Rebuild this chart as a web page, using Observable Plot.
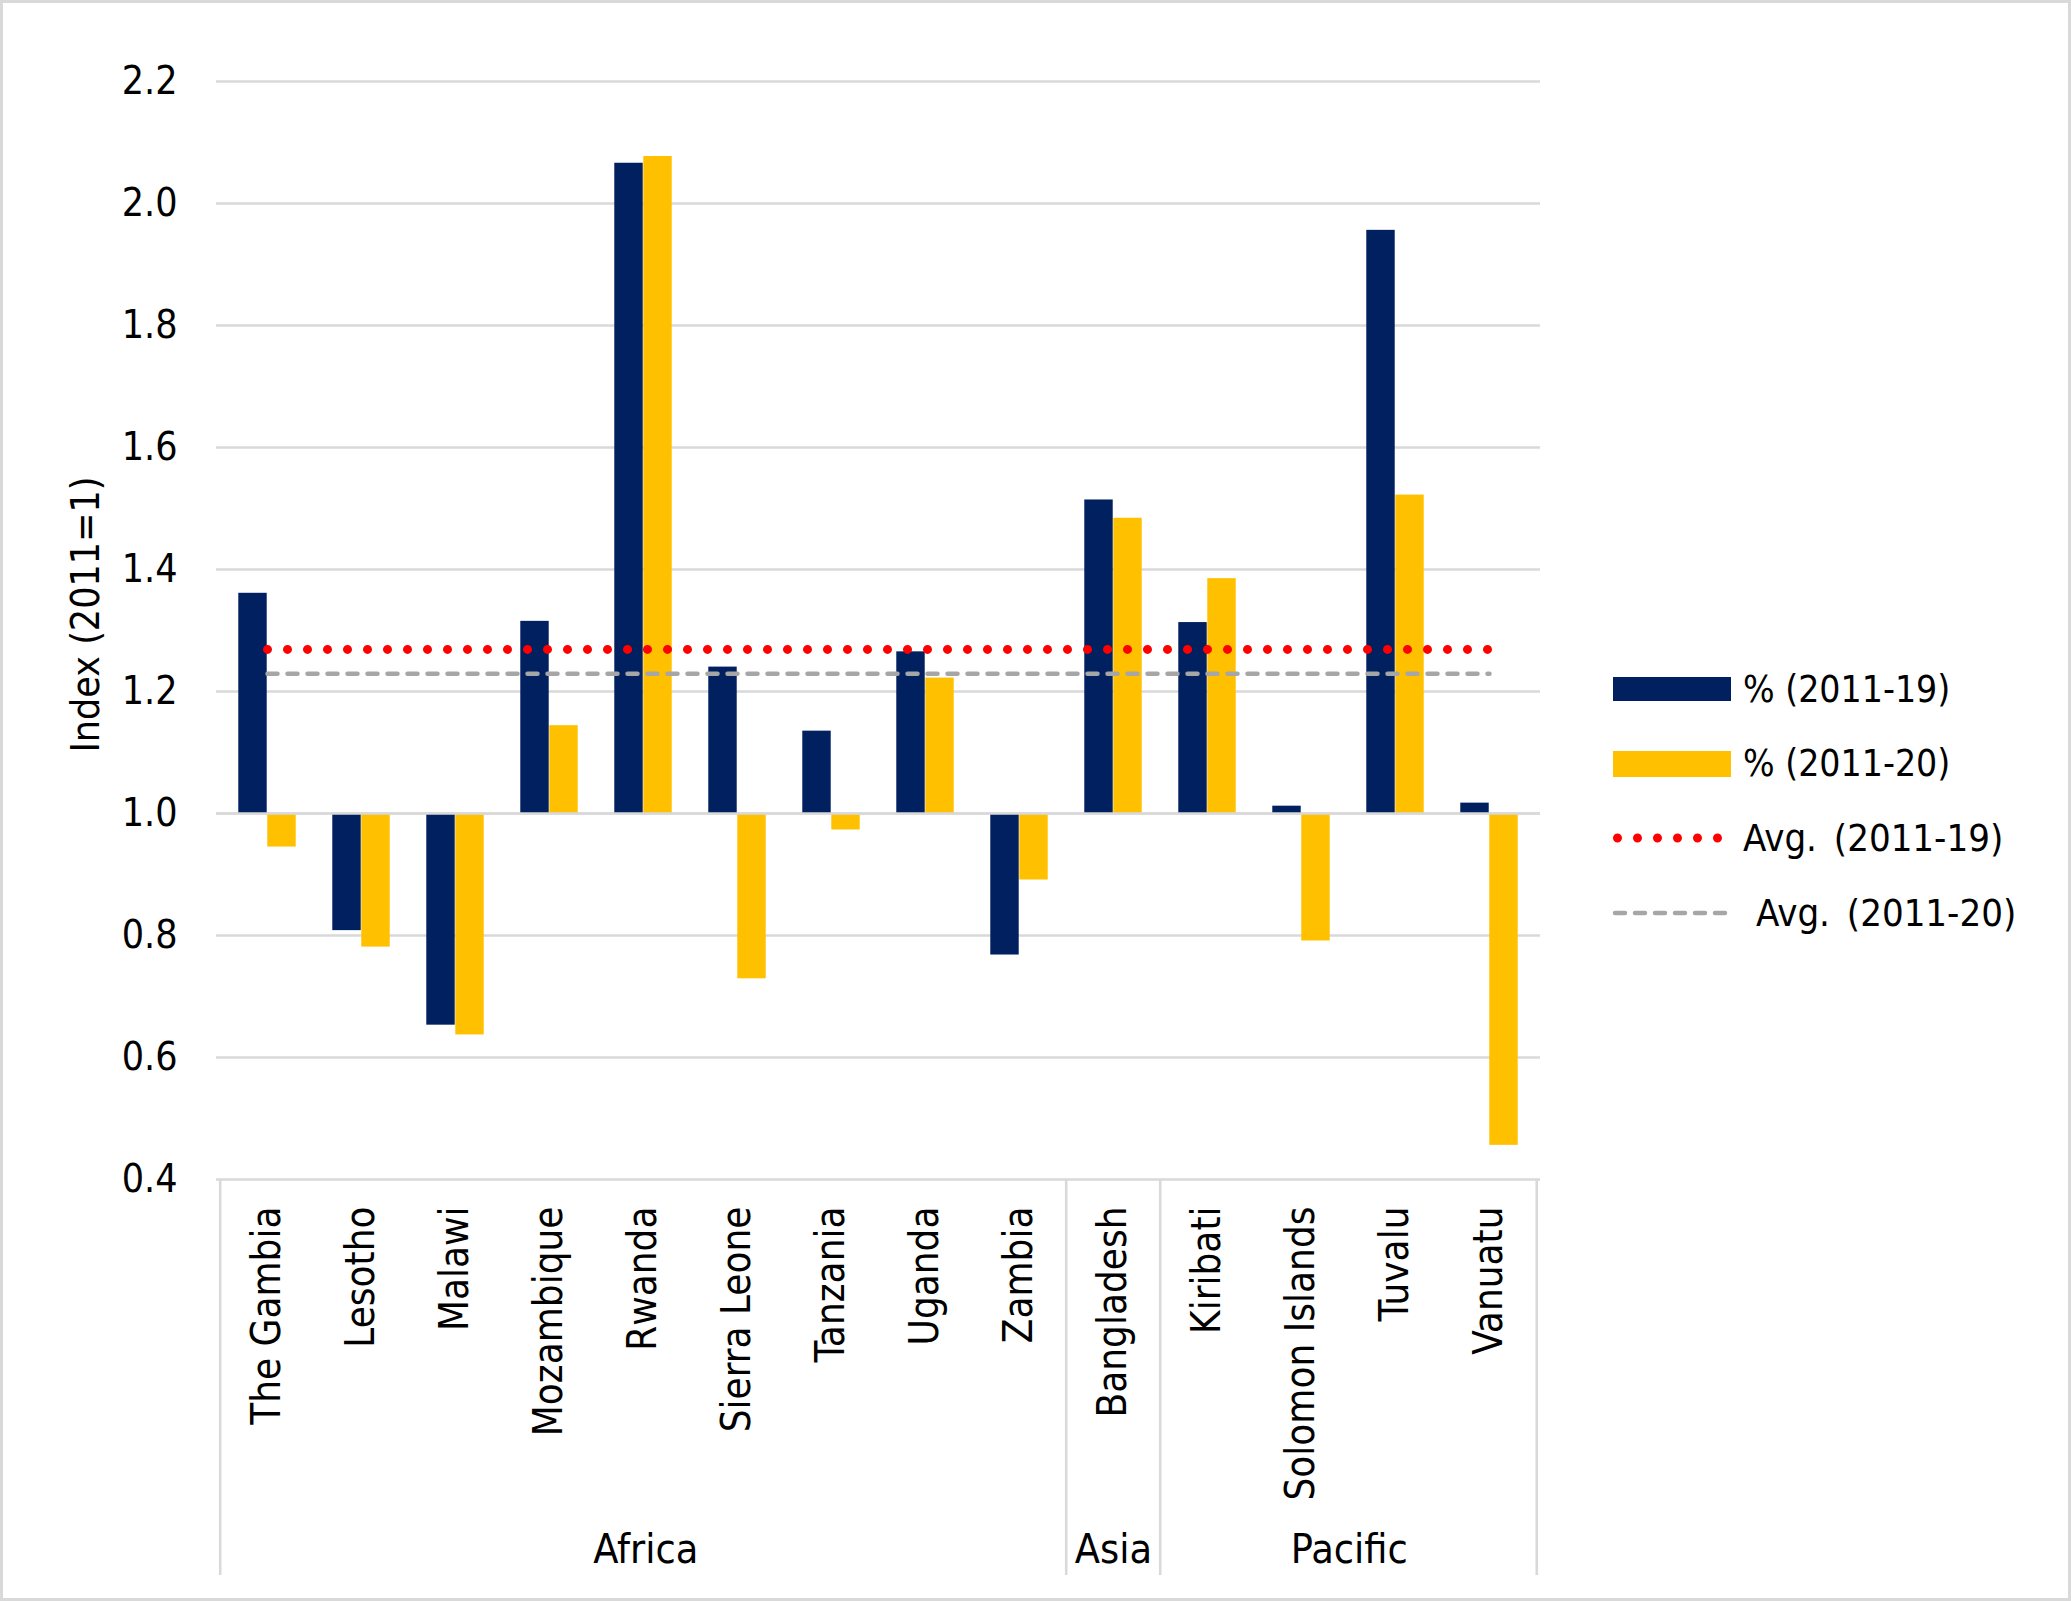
<!DOCTYPE html>
<html>
<head>
<meta charset="utf-8">
<script src="https://cdn.jsdelivr.net/npm/d3@7"></script>
<script src="https://cdn.jsdelivr.net/npm/@observablehq/plot@0.6"></script>
<style>
  body { margin: 0; background: #fff; }
  #wrap { position: relative; width: 2071px; height: 1601px; background: #fff; }
  #border { position: absolute; left: 0; top: 0; width: 2071px; height: 1601px; box-sizing: border-box; border: 3px solid #d9d9d9; pointer-events: none; }
  #legend { position: absolute; left: 1610px; top: 652px; font-family: "DejaVu Sans Condensed", "DejaVu Sans", sans-serif; font-stretch: condensed; font-size: 37px; color: #000; }
  .row { display: flex; align-items: center; height: 74.5px; }
  .row svg { flex: none; }
  .row span { margin-left: 12px; white-space: pre; }
</style>
</head>
<body>
<div id="wrap"><div id="border"></div><div id="legend"></div></div>
<script>
// ---- data ----
const countries = ["The Gambia", "Lesotho", "Malawi", "Mozambique", "Rwanda", "Sierra Leone", "Tanzania", "Uganda", "Zambia", "Bangladesh", "Kiribati", "Solomon Islands", "Tuvalu", "Vanuatu"];
const regions = ["Africa", "Africa", "Africa", "Africa", "Africa", "Africa", "Africa", "Africa", "Africa", "Asia", "Pacific", "Pacific", "Pacific", "Pacific"];
const seriesNames = ["% (2011-19)", "% (2011-20)"];
const values2011_19 = [1.361, 0.808, 0.653, 1.315, 2.066, 1.240, 1.135, 1.265, 0.768, 1.514, 1.313, 1.012, 1.956, 1.017];
const values2011_20 = [0.945, 0.781, 0.637, 1.144, 2.077, 0.729, 0.973, 1.222, 0.891, 1.484, 1.385, 0.791, 1.522, 0.456];
const avgNames = ["Avg. (2011-19)", "Avg. (2011-20)"];
const avg2011_19 = 1.269;
const avg2011_20 = 1.229;
const baseIndex = 1; // 2011 = 1
const yTicks = [0.4, 0.6, 0.8, 1.0, 1.2, 1.4, 1.6, 1.8, 2.0, 2.2];

// ---- styles ----
const FONT = '"DejaVu Sans Condensed", "DejaVu Sans", sans-serif';
const NAVY = "#002060", GOLD = "#FFC000", RED = "#FF0000", GREY = "#A6A6A6", GRID = "#D9D9D9";
const W = 2071, H = 1601;
const mL = 216, mR = W - 1540, mT = 81, mB = H - 1179;
const bw = (W - mL - mR) / countries.length;
const barW = 29;

// ---- tables ----
const rows19 = countries.map((c, i) => ({country: c, base: baseIndex, value: values2011_19[i]}));
const rows20 = countries.map((c, i) => ({country: c, base: baseIndex, value: values2011_20[i]}));
const avgRows19 = countries.map(c => ({country: c, avg: avg2011_19}));
const avgRows20 = countries.map(c => ({country: c, avg: avg2011_20}));
const groups = [];
regions.forEach((r, i) => {
  const g = groups[groups.length - 1];
  if (g && g.region === r) { g.n++; g.last = countries[i]; }
  else groups.push({region: r, first: countries[i], last: countries[i], n: 1});
});

const chart = Plot.plot({
  width: W, height: H,
  marginLeft: mL, marginRight: mR, marginTop: mT, marginBottom: mB,
  style: {fontFamily: FONT, fontStretch: "condensed", color: "#000", background: "transparent", overflow: "visible"},
  x: {domain: countries, padding: 0, axis: null},
  y: {domain: [0.4, 2.2], axis: null},
  marks: [
    Plot.ruleY(yTicks, {stroke: GRID, strokeWidth: 2.6}),
    Plot.barY(rows19, {x: "country", y1: "base", y2: "value", fill: NAVY, insetLeft: bw / 2 - barW, insetRight: bw / 2}),
    Plot.barY(rows20, {x: "country", y1: "base", y2: "value", fill: GOLD, insetLeft: bw / 2, insetRight: bw / 2 - barW}),
    Plot.ruleY([baseIndex], {stroke: GRID, strokeWidth: 2.6}),
    Plot.lineY(avgRows20, {x: "country", y: "avg", stroke: GREY, strokeWidth: 4.5, strokeDasharray: "10 10", strokeLinecap: "round"}),
    Plot.lineY(avgRows19, {x: "country", y: "avg", stroke: RED, strokeWidth: 9, strokeDasharray: "0 20", strokeLinecap: "round"}),
    Plot.axisY({ticks: yTicks, tickFormat: d => d.toFixed(1), tickSize: 0, tickPadding: 39, fontSize: 39, label: null}),
    Plot.axisX({tickRotate: -90, tickSize: 0, tickPadding: 27, fontSize: 40, label: null}),
    Plot.ruleX(groups, {x: "first", dx: -bw / 2, stroke: GRID, strokeWidth: 2.6, insetTop: H - mT - mB, insetBottom: -396}),
    Plot.ruleX([groups[groups.length - 1]], {x: "last", dx: bw / 2, stroke: GRID, strokeWidth: 2.6, insetTop: H - mT - mB, insetBottom: -396}),
    ...groups.map(g => Plot.text([g], {x: "first", text: "region", dx: (g.n - 1) * bw / 2, frameAnchor: "bottom", dy: 383, fontSize: 41})),
    Plot.text(["Index (2011=1)"], {frameAnchor: "left", textAnchor: "middle", rotate: -90, dx: -130, dy: -16, fontSize: 39})
  ]
});
document.getElementById("wrap").prepend(chart);

// ---- legend ----
const legendItems = [
  {label: seriesNames[0], kind: "bar", color: NAVY, h: 24, pad: 0, ws: 0, fs: 37},
  {label: seriesNames[1], kind: "bar", color: GOLD, h: 26, pad: 0, ws: 0, fs: 37},
  {label: avgNames[0], kind: "dots", color: RED, pad: 0, ws: 6, fs: 38},
  {label: avgNames[1], kind: "dash", color: GREY, pad: 13, ws: 6, fs: 38}
];
const legend = document.getElementById("legend");
for (const it of legendItems) {
  const row = document.createElement("div");
  row.className = "row";
  let sw;
  if (it.kind === "bar") sw = `<svg width="121" height="30"><rect x="3" y="${(30 - it.h) / 2}" width="118" height="${it.h}" fill="${it.color}"/></svg>`;
  else if (it.kind === "dots") sw = `<svg width="121" height="30"><line x1="7.5" x2="110" y1="15" y2="15" stroke="${it.color}" stroke-width="9" stroke-dasharray="0 20" stroke-linecap="round"/></svg>`;
  else sw = `<svg width="121" height="30"><line x1="5" x2="115" y1="15" y2="15" stroke="${it.color}" stroke-width="4.5" stroke-dasharray="10 10" stroke-linecap="round"/></svg>`;
  row.innerHTML = sw + `<span style="margin-left:${12 + it.pad}px;word-spacing:${it.ws}px;font-size:${it.fs}px">${it.label}</span>`;
  legend.appendChild(row);
}
</script>
</body>
</html>
